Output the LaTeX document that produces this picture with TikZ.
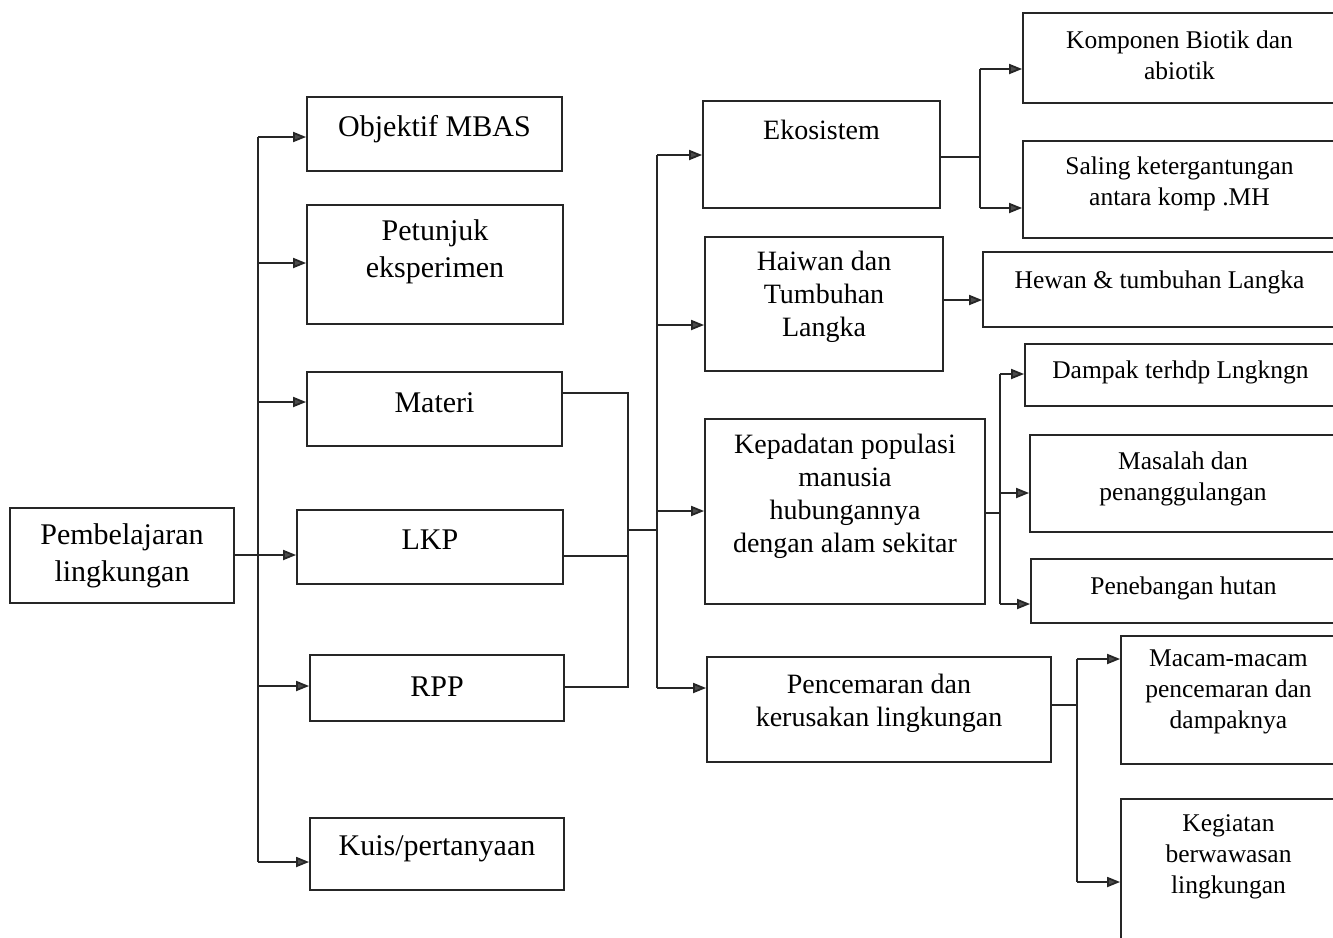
\documentclass[tikz,border=0pt]{standalone}
\usepackage{fontspec}
\setmainfont{Liberation Serif}
\usetikzlibrary{arrows.meta}
\tikzset{
  line/.style={line width=1.8pt, draw=black!85},
  arr/.style={line, -{Triangle[length=13pt,width=10pt,fill=black!70]}},
  box/.style={draw=black!85, line width=1.8pt, rectangle, inner sep=0pt},
  lf/.style={font=\fontsize{30}{37}\selectfont, align=center, inner sep=0pt},
  mf/.style={font=\fontsize{28}{33}\selectfont, align=center, inner sep=0pt},
  rf/.style={font=\fontsize{25.5}{31}\selectfont, align=center, inner sep=0pt},
}
\newcommand\bx[8]{%
  \node[box, minimum width={#4-#2}, minimum height={#5-#3}] (#1) at ({(#2+#4)/2},{(#3+#5)/2}) {};
  \node[#7] (#1t) at ({(#2+#4)/2},#6) {#8};}
\begin{document}
\begin{tikzpicture}[x=1pt,y=-1pt]
\useasboundingbox[fill=white] (0,0) rectangle (1333,937);
\clip (0,0) rectangle (1333,937);
% boxes
\bx{pem}{10}{508}{234}{603}{556}{lf}{Pembelajaran\\lingkungan}
\bx{obj}{307}{97}{562}{171}{129}{lf}{Objektif MBAS}
\bx{pet}{307}{205}{563}{324}{252}{lf}{Petunjuk\\eksperimen}
\bx{mat}{307}{372}{562}{446}{403}{lf}{Materi}
\bx{lkp}{297}{510}{563}{584}{540}{lf}{LKP}
\bx{rpp}{310}{655}{564}{721}{687}{lf}{RPP}
\bx{kui}{310}{818}{564}{890}{849}{lf}{Kuis/pertanyaan}
\bx{eko}{703}{101}{940}{208}{130}{mf}{Ekosistem}
\bx{hai}{705}{237}{943}{371}{297}{mf}{Haiwan dan\\Tumbuhan\\Langka}
\bx{kep}{705}{419}{985}{604}{496}{mf}{Kepadatan populasi\\manusia\\hubungannya\\dengan alam sekitar}
\bx{pen}{707}{657}{1051}{762}{703}{mf}{Pencemaran dan\\kerusakan lingkungan}
\bx{kom}{1023}{13}{1336}{103}{55}{rf}{Komponen Biotik dan\\abiotik}
\bx{sal}{1023}{141}{1336}{238}{184}{rf}{Saling ketergantungan\\antara komp .MH}
\bx{hew}{983}{252}{1336}{327}{282}{rf}{Hewan \& tumbuhan Langka}
\bx{dam}{1025}{344}{1336}{406}{372}{rf}{Dampak terhdp Lngkngn}
\bx{mas}{1030}{435}{1336}{532}{479}{rf}{Masalah dan\\penanggulangan}
\bx{peb}{1031}{559}{1336}{623}{588}{rf}{Penebangan hutan}
\bx{mac}{1121}{636}{1336}{764}{692}{rf}{Macam-macam\\pencemaran dan\\dampaknya}
\bx{keg}{1121}{799}{1336}{945}{857}{rf}{Kegiatan\\berwawasan\\lingkungan}
% left trunk
\coordinate (L1) at (258,137);
\coordinate (L2) at (258,263);
\coordinate (L3) at (258,402);
\coordinate (L4) at (258,555);
\coordinate (L5) at (258,686);
\coordinate (L6) at (258,862);
\draw[line] (L1) -- (L6);
\draw[arr] (L1) -- (L1 -| obj.west);
\draw[arr] (L2) -- (L2 -| pet.west);
\draw[arr] (L3) -- (L3 -| mat.west);
\draw[arr] (L4 -| pem.east) -- (L4 -| lkp.west);
\draw[arr] (L5) -- (L5 -| rpp.west);
\draw[arr] (L6) -- (L6 -| kui.west);
% merge of Materi, LKP, RPP
\coordinate (m1) at (628,393);
\coordinate (m2) at (628,556);
\coordinate (m3) at (628,687);
\coordinate (M) at (628,530);
\draw[line] (m1 -| mat.east) -- (m1) -- (m3) -- (m3 -| rpp.east);
\draw[line] (m2 -| lkp.east) -- (m2);
% middle trunk
\coordinate (C1) at (657,155);
\coordinate (C2) at (657,325);
\coordinate (C3) at (657,511);
\coordinate (C4) at (657,688);
\draw[line] (M) -- (M -| C1);
\draw[line] (C1) -- (C4);
\draw[arr] (C1) -- (C1 -| eko.west);
\draw[arr] (C2) -- (C2 -| hai.west);
\draw[arr] (C3) -- (C3 -| kep.west);
\draw[arr] (C4) -- (C4 -| pen.west);
% Ekosistem branch
\coordinate (E0) at (980,157);
\coordinate (E1) at (980,69);
\coordinate (E2) at (980,208);
\draw[line] (E0 -| eko.east) -- (E0);
\draw[line] (E1) -- (E2);
\draw[arr] (E1) -- (E1 -| kom.west);
\draw[arr] (E2) -- (E2 -| sal.west);
% Haiwan branch
\coordinate (H) at (960,300);
\draw[arr] (H -| hai.east) -- (H -| hew.west);
% Kepadatan branch
\coordinate (K0) at (1000,513);
\coordinate (K1) at (1000,374);
\coordinate (K2) at (1000,493);
\coordinate (K3) at (1000,604);
\draw[line] (K0 -| kep.east) -- (K0);
\draw[line] (K1) -- (K3);
\draw[arr] (K1) -- (K1 -| dam.west);
\draw[arr] (K2) -- (K2 -| mas.west);
\draw[arr] (K3) -- (K3 -| peb.west);
% Pencemaran branch
\coordinate (P0) at (1077,705);
\coordinate (P1) at (1077,659);
\coordinate (P2) at (1077,882);
\draw[line] (P0 -| pen.east) -- (P0);
\draw[line] (P1) -- (P2);
\draw[arr] (P1) -- (P1 -| mac.west);
\draw[arr] (P2) -- (P2 -| keg.west);
\end{tikzpicture}
\end{document}
